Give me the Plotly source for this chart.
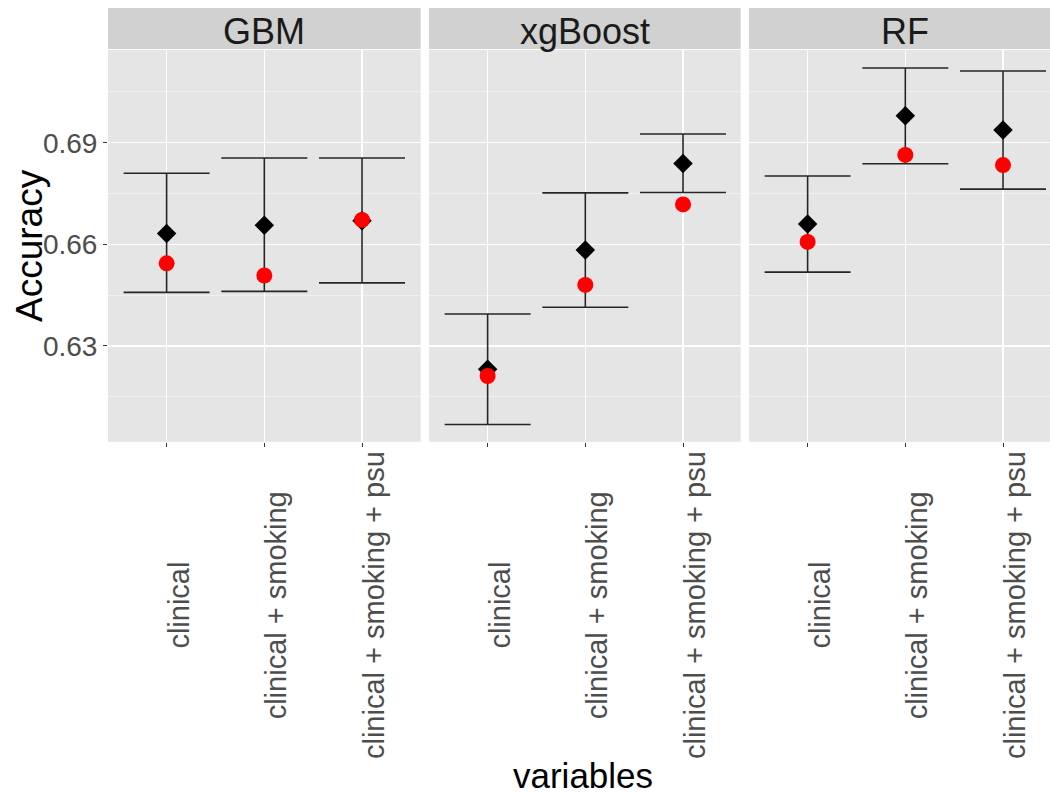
import plotly.graph_objects as go

W, H = 1050, 795

models = ["GBM", "xgBoost", "RF"]
variables = ["clinical", "clinical + smoking", "clinical + smoking + psu"]

diamond_gbm = [0.6632, 0.6656, 0.6670]
diamond_xgb = [0.6231, 0.6583, 0.6839]
diamond_rf = [0.6660, 0.6980, 0.6938]

red_gbm = [0.6544, 0.6508, 0.6672]
red_xgb = [0.6211, 0.6480, 0.6718]
red_rf = [0.6607, 0.6864, 0.6834]

upper_gbm = [0.6810, 0.6855, 0.6855]
upper_xgb = [0.6394, 0.6752, 0.6926]
upper_rf = [0.6802, 0.7121, 0.7112]

lower_gbm = [0.6458, 0.6461, 0.6486]
lower_xgb = [0.6068, 0.6414, 0.6753]
lower_rf = [0.6518, 0.6838, 0.6763]

y_ticks = [0.63, 0.66, 0.69]
y_tick_labels = ["0.63", "0.66", "0.69"]

panels = [
    (diamond_gbm, red_gbm, upper_gbm, lower_gbm),
    (diamond_xgb, red_xgb, upper_xgb, lower_xgb),
    (diamond_rf, red_rf, upper_rf, lower_rf),
]

FONT = "Liberation Sans, Arial, Helvetica, sans-serif"
PANEL_BG = "#E5E5E5"
STRIP_BG = "#D1D1D1"

# pixel layout (screen coordinates)
px_domains = [(108, 420.7), (429, 740.7), (749, 1050)]
top_px, bot_px = 50, 441.7
strip_top, strip_bot = 8, 49
unit_px = 97.7
yrange = [0.6017, 0.7174]

def fx(p):
    return p / W

def fy(p):
    return 1 - p / H

fig = go.Figure()
layout = dict(
    width=W, height=H,
    margin=dict(l=0, r=0, t=0, b=0),
    paper_bgcolor="white",
    showlegend=False,
    font=dict(family=FONT),
)
shapes = []
annotations = []

for i, (m, (dia, red, up, lo)) in enumerate(zip(models, panels)):
    idx = "" if i == 0 else str(i + 1)
    xa = "x" + idx
    ya = "y" + idx
    err_plus = [u - d for u, d in zip(up, dia)]
    err_minus = [d - l for d, l in zip(dia, lo)]
    fig.add_trace(go.Scatter(
        x=variables, y=dia, xaxis=xa, yaxis=ya, mode="markers",
        marker=dict(size=1, color="rgba(0,0,0,0)"),
        error_y=dict(type="data", symmetric=False, array=err_plus,
                     arrayminus=err_minus, color="#262626", thickness=1.6,
                     width=43),
        hoverinfo="skip"))
    fig.add_trace(go.Scatter(
        x=variables, y=dia, xaxis=xa, yaxis=ya, mode="markers",
        marker=dict(symbol="diamond", size=15, color="black",
                    line=dict(width=0))))
    fig.add_trace(go.Scatter(
        x=variables, y=red, xaxis=xa, yaxis=ya, mode="markers",
        marker=dict(symbol="circle", size=16, color="#FF0000",
                    line=dict(width=0))))

    d0, d1 = px_domains[i]
    xr = [-0.6, -0.6 + (d1 - d0) / unit_px]
    layout["xaxis" + idx] = dict(
        domain=[fx(d0), min(1.0, fx(d1))], anchor=ya, type="category",
        categoryorder="array", categoryarray=variables,
        range=xr, showticklabels=False, ticks="outside", ticklen=4,
        tickwidth=1, tickcolor="#333333", showgrid=True,
        gridcolor="white", gridwidth=1.3, zeroline=False, showline=False,
        fixedrange=True)
    yax = dict(
        domain=[fy(bot_px), fy(top_px)], anchor=xa, range=yrange,
        tickvals=y_ticks, ticktext=y_tick_labels, showgrid=True,
        gridcolor="white", gridwidth=1.3, zeroline=False, showline=False,
        minor=dict(tickvals=[0.615, 0.645, 0.675, 0.705], showgrid=True,
                   gridcolor="#F2F2F2", gridwidth=0.8, ticks=""),
        fixedrange=True)
    if i == 0:
        yax.update(ticks="outside", ticklen=4, tickwidth=1,
                   tickcolor="#333333",
                   tickfont=dict(size=28, color="#4D4D4D", family=FONT))
    else:
        yax.update(showticklabels=False, ticks="")
    layout["yaxis" + idx] = yax

    # panel background
    shapes.append(dict(type="rect", xref="paper", yref="paper",
                       x0=fx(d0), x1=min(1.0, fx(d1)), y0=fy(bot_px), y1=fy(top_px),
                       fillcolor=PANEL_BG, line=dict(width=0), layer="below"))
    # strip
    shapes.append(dict(type="rect", xref="paper", yref="paper",
                       x0=fx(d0), x1=min(1.0, fx(d1)), y0=fy(strip_bot), y1=fy(strip_top),
                       fillcolor=STRIP_BG, line=dict(width=0), layer="below"))
    cx = (d0 + d0 + 3.2 * unit_px) / 2
    annotations.append(dict(text=m, xref="paper", yref="paper",
                            x=fx(cx), y=fy(32), xanchor="center", yanchor="middle",
                            showarrow=False,
                            font=dict(size=36, color="#1A1A1A", family=FONT)))
    # category labels (rotated, centered)
    for v in variables:
        annotations.append(dict(text=v, xref=xa, yref="paper", x=v,
                                y=fy(605), xanchor="center", yanchor="middle",
                                xshift=12, textangle=-90, showarrow=False,
                                font=dict(size=29, color="#4D4D4D", family=FONT)))

annotations.append(dict(text="Accuracy", xref="paper", yref="paper",
                        x=fx(30), y=fy(246), xanchor="center", yanchor="middle",
                        textangle=-90, showarrow=False,
                        font=dict(size=37, color="black", family=FONT)))
annotations.append(dict(text="variables", xref="paper", yref="paper",
                        x=fx(583), y=fy(775), xanchor="center", yanchor="middle",
                        showarrow=False,
                        font=dict(size=35, color="black", family=FONT)))

layout["shapes"] = shapes
layout["annotations"] = annotations
layout["plot_bgcolor"] = "rgba(0,0,0,0)"
fig.update_layout(**layout)
fig.write_html(
    "out.html",
    config={"displayModeBar": False, "staticPlot": True},
    post_script="document.body.style.margin='0';document.body.style.overflow='hidden';",
)
